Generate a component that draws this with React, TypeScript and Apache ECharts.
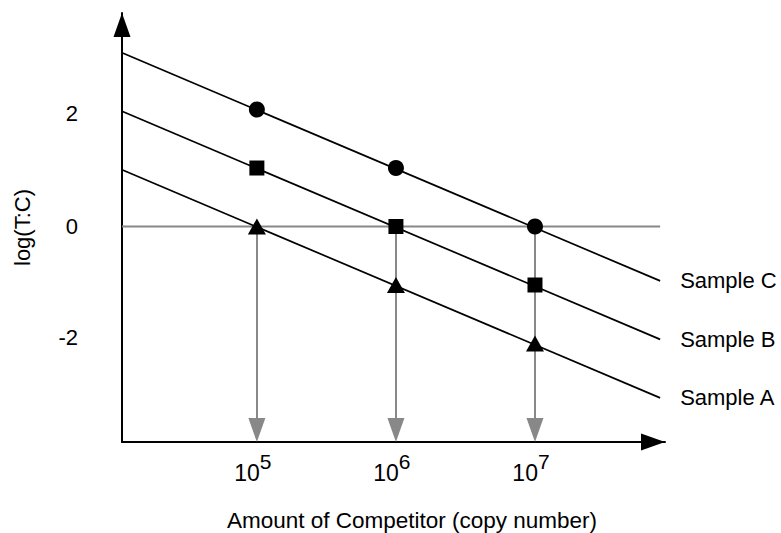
import React, { useEffect, useRef } from "react";
import * as echarts from "echarts";

// ---- data ----
const seriesNames = ["Sample C", "Sample B", "Sample A"];
const lineX = [4.03, 7.9];
const sampleCLine = [2.97, -0.93];
const sampleBLine = [1.97, -1.93];
const sampleALine = [0.97, -2.93];
const markerX = [5, 6, 7];
const sampleC = [2, 1, 0];
const sampleB = [1, 0, -1];
const sampleA = [0, -1, -2];
const markerSymbols = ["circle", "rect", "triangle"];
// tick labels as printed, and where they sit on the y scale in the picture
const yTickLabels = ["-2", "0", "2"];
const yTickPositions = [-1.9, 0, 1.93];
const xTickExponents = [5, 6, 7];
const refLineX = [4.03, 7.9];
const refLineY = [0, 0];
const arrowEndY = -3.48;

const X_MIN = 4.03;
const X_MAX = 7.935;
const Y_MIN = -3.684;
const Y_MAX = 3.65;

const FONT = '"Liberation Sans", Arial, Helvetica, sans-serif';

export default function App() {
  const ref = useRef<HTMLDivElement>(null);

  useEffect(() => {
    if (!ref.current) return;
    const chart = echarts.init(ref.current, null, { renderer: "svg" });

    const lines = [sampleCLine, sampleBLine, sampleALine];
    const markers = [sampleC, sampleB, sampleA];
    const symbolSizes: any[] = [16, 15, [18, 16]];

    const series: any[] = [];
    series.push({
      type: "line",
      name: "ref",
      data: refLineX.map((x, i) => [x, refLineY[i]]),
      showSymbol: false,
      symbol: "none",
      lineStyle: { color: "#888888", width: 2 },
      z: 1,
      silent: true,
      markLine: {
        silent: true,
        z: 1,
        symbol: ["none", "triangle"],
        symbolSize: [17, 24],
        lineStyle: { color: "#888888", width: 2, type: "solid" },
        itemStyle: { color: "#888888" },
        label: { show: false },
        emphasis: { disabled: true },
        data: markerX.map((x) => [
          { coord: [x, 0] },
          { coord: [x, arrowEndY] },
        ]),
      },
    });

    seriesNames.forEach((name, i) => {
      series.push({
        type: "line",
        name,
        data: lineX.map((x, j) => [x, lines[i][j]]),
        showSymbol: false,
        symbol: "none",
        lineStyle: { color: "#000", width: 1.7 },
        z: 2,
        silent: true,
        endLabel: {
          show: true,
          formatter: () => name,
          distance: 20,
          color: "#000",
          fontSize: 22,
          fontFamily: FONT,
        },
      });
      series.push({
        type: "scatter",
        name: name + " points",
        data: markerX.map((x, j) => [x, markers[i][j]]),
        symbol: markerSymbols[i],
        symbolSize: symbolSizes[i],
        itemStyle: { color: "#000", opacity: 1 },
        z: 3,
        silent: true,
      });
    });

    chart.setOption({
      animation: false,
      backgroundColor: "#fff",
      textStyle: { fontFamily: FONT },
      grid: {
        left: 122,
        right: 116,
        top: 13,
        bottom: 91,
        containLabel: false,
        outerBoundsMode: "none",
      },
      xAxis: {
        type: "value",
        min: X_MIN,
        max: X_MAX,
        splitLine: { show: false },
        axisTick: { show: false },
        axisLine: {
          show: true,
          onZero: false,
          lineStyle: { color: "#000", width: 2 },
          symbol: ["none", "triangle"],
          symbolSize: [17, 24],
          symbolOffset: [0, -12],
        },
        axisLabel: {
          customValues: xTickExponents,
          showMinLabel: true,
          showMaxLabel: true,
          margin: 9,
          padding: [0, 8, 0, 0],
          formatter: (v: number) => "{b|10}{s|" + Math.round(v) + "}",
          rich: {
            b: { fontSize: 23, color: "#000", fontFamily: FONT },
            s: { fontSize: 21, color: "#000", fontFamily: FONT, padding: [0, 0, 22, 0] },
          },
        },
        name: "Amount of Competitor (copy number)",
        nameLocation: "middle",
        nameGap: 67,
        nameTextStyle: {
          color: "#000",
          fontSize: 22.5,
          fontFamily: FONT,
          padding: [0, 0, 0, 37],
        },
      },
      yAxis: {
        type: "value",
        min: Y_MIN,
        max: Y_MAX,
        splitLine: { show: false },
        axisTick: { show: false },
        axisLine: {
          show: true,
          onZero: false,
          lineStyle: { color: "#000", width: 2 },
          symbol: ["none", "triangle"],
          symbolSize: [17, 24],
          symbolOffset: [0, -12],
        },
        axisLabel: {
          customValues: yTickPositions,
          margin: 44,
          color: "#000",
          fontSize: 22,
          fontFamily: FONT,
          formatter: (v: number) => {
            const idx = yTickPositions.findIndex((p) => Math.abs(p - v) < 1e-6);
            return idx >= 0 ? yTickLabels[idx] : "";
          },
        },
        name: "log(T:C)",
        nameLocation: "middle",
        nameRotate: 90,
        nameGap: 89,
        nameTextStyle: { color: "#000", fontSize: 22, fontFamily: FONT },
      },
      series,
    });

    return () => chart.dispose();
  }, []);

  return (
    <div
      ref={ref}
      style={{ position: "fixed", left: 0, top: 0, width: 781, height: 533, background: "#fff" }}
    />
  );
}
